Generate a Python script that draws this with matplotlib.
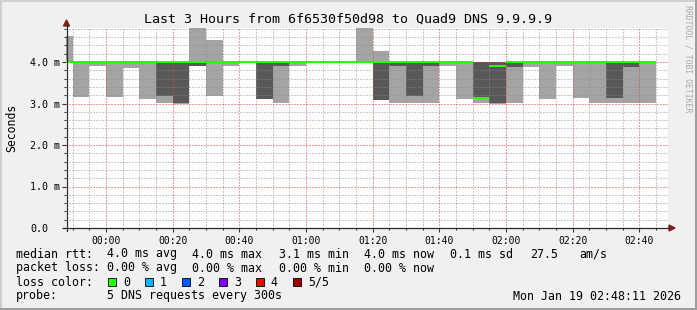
import matplotlib
matplotlib.use("Agg")
import matplotlib.pyplot as plt
from matplotlib.patches import Rectangle, Polygon
from matplotlib.lines import Line2D
from matplotlib.ticker import MultipleLocator

# --- data (ms), one entry per 5 minute step -------------------------------
bin_start = ["23:45", "23:50", "23:55", "00:00", "00:05", "00:10", "00:15", "00:20",
             "00:25", "00:30", "00:35", "00:40", "00:45", "00:50", "00:55", "01:00",
             "01:05", "01:10", "01:15", "01:20", "01:25", "01:30", "01:35", "01:40",
             "01:45", "01:50", "01:55", "02:00", "02:05", "02:10", "02:15", "02:20",
             "02:25", "02:30", "02:35", "02:40"]
ping_1 = [3.99, 3.16, 3.90, 3.16, 3.86, 3.12, 3.01, 3.00, 3.90, 3.18, 3.90, 3.99,
          3.11, 3.01, 3.90, 3.99, 3.99, 3.99, 3.99, 3.09, 3.01, 3.01, 3.01, 3.90,
          3.12, 3.01, 3.00, 3.01, 3.88, 3.12, 3.90, 3.14, 3.01, 3.01, 3.01, 3.01]
ping_2 = [3.99, 3.99, 3.99, 3.99, 3.99, 3.99, 3.19, 3.01, 3.90, 3.99, 3.99, 3.99,
          3.12, 3.90, 3.99, 3.99, 3.99, 3.99, 3.99, 3.09, 3.90, 3.19, 3.90, 3.99,
          3.99, 3.12, 3.01, 3.88, 3.99, 3.99, 3.99, 3.99, 3.99, 3.14, 3.89, 3.99]
median = [4.00, 4.00, 4.00, 4.00, 4.00, 4.00, 4.00, 4.00, 4.00, 4.00, 4.00, 4.00,
          4.00, 4.00, 4.00, 4.00, 4.00, 4.00, 4.00, 4.00, 4.00, 4.00, 4.00, 4.00,
          4.00, 3.14, 3.91, 4.00, 4.00, 4.00, 4.00, 4.00, 4.00, 4.00, 4.00, 4.00]
ping_4 = [4.01] * 36
ping_5 = [4.63, 4.01, 4.01, 4.01, 4.01, 4.01, 4.01, 4.01, 4.90, 4.53, 4.01, 4.01,
          4.01, 4.01, 4.01, 4.01, 4.01, 4.01, 4.90, 4.27, 4.01, 4.01, 4.01, 4.01,
          4.01, 4.01, 4.01, 4.01, 4.01, 4.01, 4.01, 4.01, 4.01, 4.01, 4.01, 4.01]

xtick_labels = ["00:00", "00:20", "00:40", "01:00", "01:20", "01:40", "02:00", "02:20", "02:40"]
ytick_values = [0, 1, 2, 3, 4]
ytick_labels = ["0.0", "1.0 m", "2.0 m", "3.0 m", "4.0 m"]

title = "Last 3 Hours from 6f6530f50d98 to Quad9 DNS 9.9.9.9"
rtt_stats = ["4.0 ms avg", "4.0 ms max", "3.1 ms min", "4.0 ms now", "0.1 ms sd", "27.5", "am/s"]
loss_stats = ["0.00 % avg", "0.00 % max", "0.00 % min", "0.00 % now"]
loss_labels = ["0", "1", "2", "3", "4", "5/5"]
loss_colors = ["#26ff00", "#00b8ff", "#0059ff", "#7e00ff", "#ff0000", "#a10000"]
probe_text = "5 DNS requests every 300s"
stamp = "Mon Jan 19 02:48:11 2026"


def to_minutes(s):
    h, m = map(int, s.split(":"))
    t = h * 60 + m
    return t - 1440 if h >= 12 else t


W, H = 697, 310
MONO = "DejaVu Sans Mono"
plt.rcParams["font.family"] = MONO


def fx(x):
    return x / W


def fy(y):
    return 1 - y / H


fig = plt.figure(figsize=(W / 100, H / 100), dpi=100, facecolor="#f0f0f0")

# plot area: x 66..668 px, y 28..228 px
ax = fig.add_axes([fx(66), fy(228), fx(668) - fx(66), (228 - 28) / H])
ax.set_facecolor("white")
for sp in ax.spines.values():
    sp.set_visible(False)

xs = [to_minutes(s) for s in bin_start]
light = [b - a for a, b in zip(ping_1, ping_5)]
dark = [b - a for a, b in zip(ping_2, ping_4)]
ax.bar(xs, light, bottom=ping_1, width=5, align="edge", color="#a4a4a4", linewidth=0, zorder=1)
ax.bar(xs, dark, bottom=ping_2, width=5, align="edge", color="#585858", linewidth=0, zorder=1.1)
sw = 0.05
ax.bar(xs, [sw] * len(xs), bottom=[m - sw / 2 for m in median], width=5, align="edge",
       color=loss_colors[0], linewidth=0, zorder=3)

ax.set_xlim(-12, 168.6)
ax.set_ylim(0, 200 / 41.5)

ax.set_xticks([to_minutes(s) for s in xtick_labels], xtick_labels)
ax.xaxis.set_minor_locator(MultipleLocator(5))
ax.set_yticks(ytick_values, ytick_labels)
ax.yaxis.set_minor_locator(MultipleLocator(0.2))
for lbl in ax.get_yticklabels():
    lbl.set_horizontalalignment("left")

ax.tick_params(axis="x", which="major", length=3, width=0.8, color="#333333",
               labelsize=7, pad=2.5)
ax.tick_params(axis="y", which="major", length=3, width=0.8, color="#333333",
               labelsize=7.2, pad=23)
ax.tick_params(which="minor", length=1.5, width=0.8, color="#333333")

# dotted rrdtool grid, drawn over the smoke
ax.set_axisbelow(False)
ax.grid(which="minor", color="#8c8c8c", alpha=0.45, linestyle=(0, (1, 1)),
        linewidth=0.75, antialiased=False)
ax.grid(which="major", color="#e83c3c", alpha=0.5, linestyle=(0, (1, 1)),
        linewidth=0.75, antialiased=False)

# axis lines with rrdtool-style arrows
axis_col = "#2a2a2a"
arrow_col = "#7f1f1f"
fig.add_artist(Line2D([fx(63), fx(669)], [fy(228), fy(228)], color=axis_col, lw=0.9))
fig.add_artist(Line2D([fx(66.5), fx(66.5)], [fy(231), fy(25)], color=axis_col, lw=0.9))
fig.add_artist(Polygon([(fx(669), fy(225)), (fx(675), fy(228)), (fx(669), fy(231))],
                       closed=True, color=arrow_col, transform=fig.transFigure))
fig.add_artist(Polygon([(fx(63.5), fy(26)), (fx(66.5), fy(20)), (fx(69.5), fy(26))],
                       closed=True, color=arrow_col, transform=fig.transFigure))

# frame
fig.add_artist(Rectangle((0, fy(2)), 1, 2 / H, transform=fig.transFigure, color="#cfcfcf", lw=0))
fig.add_artist(Rectangle((0, 0), fx(2), 1, transform=fig.transFigure, color="#cfcfcf", lw=0))
fig.add_artist(Rectangle((0, 0), 1, 2 / H, transform=fig.transFigure, color="#9e9e9e", lw=0))
fig.add_artist(Rectangle((fx(695), 0), fx(2), 1, transform=fig.transFigure, color="#9e9e9e", lw=0))

fig.text(fx(348.5), fy(19), title, ha="center", va="center", fontsize=9.6)
fig.text(fx(12), fy(128), "Seconds", ha="center", va="center", rotation=90, fontsize=8.3)
fig.text(fx(688), fy(59), "RRDTOOL / TOBI OETIKER", ha="center", va="center",
         rotation=270, fontsize=5.9, color="#a8a8a8")

# legend block
lf = 8.4
fig.text(fx(16), fy(254), "median rtt:", va="center", fontsize=lf)
for s, x in zip(rtt_stats, [107, 192, 279, 364, 450, 530, 579]):
    fig.text(fx(x), fy(254), s, va="center", fontsize=lf)
fig.text(fx(16), fy(268), "packet loss:", va="center", fontsize=lf)
for s, x in zip(loss_stats, [107, 192, 279, 364]):
    fig.text(fx(x), fy(268), s, va="center", fontsize=lf)
fig.text(fx(16), fy(282), "loss color:", va="center", fontsize=lf)
for i, (lab, col) in enumerate(zip(loss_labels, loss_colors)):
    bx = 108.4 + 37 * i
    fig.add_artist(Rectangle((fx(bx), fy(286)), fx(8), 8 / H, transform=fig.transFigure,
                             facecolor=col, edgecolor="black", lw=0.6))
    fig.text(fx(bx + 14.5), fy(282), lab, va="center", fontsize=lf)
fig.text(fx(16), fy(296), "probe:", va="center", fontsize=lf)
fig.text(fx(107), fy(296), probe_text, va="center", fontsize=lf)
fig.text(fx(681), fy(296), stamp, ha="right", va="center", fontsize=lf)

fig.savefig("out.png", dpi=100, facecolor=fig.get_facecolor())
